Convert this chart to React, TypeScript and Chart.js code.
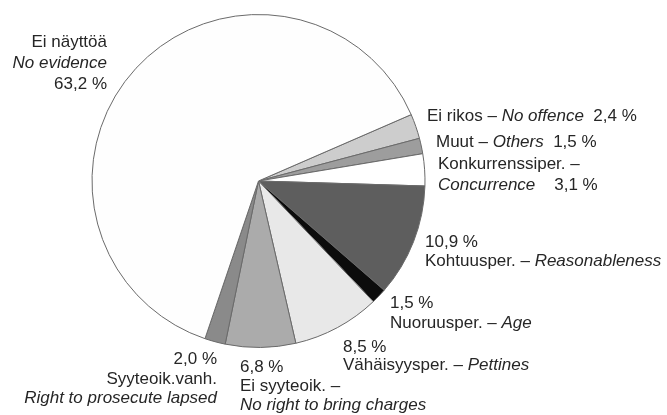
import React, { useEffect, useRef } from "react";
import { Chart, registerables } from "chart.js";

Chart.register(...registerables);

const categories = [
  "Ei rikos – No offence",
  "Muut – Others",
  "Konkurrenssiper. – Concurrence",
  "Kohtuusper. – Reasonableness",
  "Nuoruusper. – Age",
  "Vähäisyysper. – Pettines",
  "Ei syyteoik. – No right to bring charges",
  "Syyteoik.vanh. – Right to prosecute lapsed",
  "Ei näyttöä – No evidence",
];
const shares = [2.4, 1.5, 3.1, 10.9, 1.5, 8.5, 6.8, 2.0, 63.2];
const valueLabels = ["2,4 %", "1,5 %", "3,1 %", "10,9 %", "1,5 %", "8,5 %", "6,8 %", "2,0 %", "63,2 %"];

const sliceColors = ["#cdcdcd", "#9d9d9d", "#ffffff", "#5e5e5e", "#0c0c0c", "#e8e8e8", "#ababab", "#8a8a8a", "#fefefe"];

type Seg = { t: string; i?: boolean; v?: boolean };
type Line = { segs: Seg[]; x: number; y: number; align: "left" | "right" };

// label layout (text positions only)
const labelLayout: Line[][] = [
  [{ segs: [{ t: "Ei rikos – " }, { t: "No offence", i: true }, { t: "  " }, { t: "", v: true }], x: 427, y: 121, align: "left" }],
  [{ segs: [{ t: "Muut – " }, { t: "Others", i: true }, { t: "  " }, { t: "", v: true }], x: 436, y: 147, align: "left" }],
  [
    { segs: [{ t: "Konkurrenssiper. –" }], x: 438, y: 169, align: "left" },
    { segs: [{ t: "Concurrence", i: true }, { t: "    " }, { t: "", v: true }], x: 438, y: 190, align: "left" },
  ],
  [
    { segs: [{ t: "", v: true }], x: 425, y: 247, align: "left" },
    { segs: [{ t: "Kohtuusper. – " }, { t: "Reasonableness", i: true }], x: 425, y: 266, align: "left" },
  ],
  [
    { segs: [{ t: "", v: true }], x: 390, y: 308, align: "left" },
    { segs: [{ t: "Nuoruusper. – " }, { t: "Age", i: true }], x: 390, y: 328, align: "left" },
  ],
  [
    { segs: [{ t: "", v: true }], x: 343, y: 352, align: "left" },
    { segs: [{ t: "Vähäisyysper. – " }, { t: "Pettines", i: true }], x: 343, y: 370, align: "left" },
  ],
  [
    { segs: [{ t: "", v: true }], x: 240, y: 372, align: "left" },
    { segs: [{ t: "Ei syyteoik. –" }], x: 240, y: 391, align: "left" },
    { segs: [{ t: "No right to bring charges", i: true }], x: 240, y: 410, align: "left" },
  ],
  [
    { segs: [{ t: "", v: true }], x: 217, y: 364, align: "right" },
    { segs: [{ t: "Syyteoik.vanh." }], x: 217, y: 384, align: "right" },
    { segs: [{ t: "Right to prosecute lapsed", i: true }], x: 217, y: 403, align: "right" },
  ],
  [
    { segs: [{ t: "Ei näyttöä" }], x: 107, y: 47, align: "right" },
    { segs: [{ t: "No evidence", i: true }], x: 107, y: 68, align: "right" },
    { segs: [{ t: "", v: true }], x: 107, y: 89, align: "right" },
  ],
];

const FONT = '"Liberation Sans", Arial, sans-serif';
const SIZE = 17;

const labelPlugin = {
  id: "sliceLabels",
  afterDraw(chart: any) {
    const ctx = chart.ctx;
    ctx.save();
    ctx.fillStyle = "#262626";
    ctx.textBaseline = "alphabetic";
    ctx.textAlign = "left";
    labelLayout.forEach((lines, idx) => {
      lines.forEach((line) => {
        const parts = line.segs.map((s) => ({
          text: s.v ? valueLabels[idx] : s.t,
          font: `${s.i ? "italic " : ""}${SIZE}px ${FONT}`,
        }));
        let total = 0;
        parts.forEach((p) => {
          ctx.font = p.font;
          total += ctx.measureText(p.text).width;
        });
        let x = line.align === "right" ? line.x - total : line.x;
        parts.forEach((p) => {
          ctx.font = p.font;
          ctx.fillText(p.text, x, line.y);
          x += ctx.measureText(p.text).width;
        });
      });
    });
    ctx.restore();
  },
};

export default function App() {
  const ref = useRef<HTMLCanvasElement>(null);
  useEffect(() => {
    document.body.style.margin = "0";
    const chart = new Chart(ref.current!, {
      type: "pie",
      data: {
        labels: categories,
        datasets: [
          {
            data: shares,
            backgroundColor: sliceColors,
            borderColor: "#6a6a6a",
            borderWidth: 1,
          },
        ],
      },
      options: {
        responsive: false,
        animation: false,
        rotation: 66.5,
        layout: { padding: { left: 91, right: 241, top: 14, bottom: 67 } },
        plugins: { legend: { display: false }, tooltip: { enabled: false } },
      },
      plugins: [labelPlugin],
    });
    return () => chart.destroy();
  }, []);
  return (
    <div style={{ width: 667, height: 415, background: "#fff" }}>
      <canvas ref={ref} width={667} height={415} />
    </div>
  );
}
